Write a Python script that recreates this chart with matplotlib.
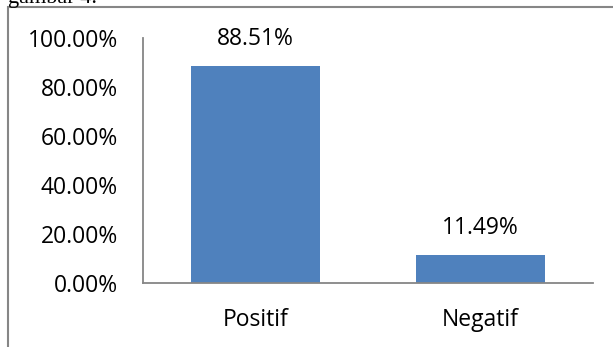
import matplotlib
matplotlib.use("Agg")
import matplotlib.pyplot as plt
from matplotlib.patches import Rectangle
from matplotlib.ticker import FuncFormatter

# data
categories = ["Positif", "Negatif"]
values = [0.8851, 0.1149]
y_ticks = [0.0, 0.2, 0.4, 0.6, 0.8, 1.0]

bar_color = "#4F81BD"
axis_color = "#868686"

plt.rcParams["font.family"] = ["Open Sans", "DejaVu Sans"]

W, H = 613, 347
fig = plt.figure(figsize=(W / 100, H / 100), dpi=100)

# axes placed in pixel coordinates of the reference
left, right, top, bottom = 143, 593, 38, 283
ax = fig.add_axes([left / W, 1 - bottom / H, (right - left) / W, (bottom - top) / H])

x = range(len(categories))
bars = ax.bar(x, values, width=0.57, color=bar_color, zorder=2)

for b, v in zip(bars, values):
    ax.annotate(f"{v * 100:.2f}%", (b.get_x() + b.get_width() / 2, v),
                xytext=(0, 19.5), textcoords="offset points",
                ha="center", va="center", fontsize=16.5, color="black")

ax.set_xlim(-0.5, len(categories) - 0.5)
ax.set_ylim(0, 1.0)
ax.set_yticks(y_ticks)
ax.yaxis.set_major_formatter(FuncFormatter(lambda v, _: f"{v * 100:.2f}%"))
ax.set_xticks(list(x))
ax.set_xticklabels(categories)

ax.tick_params(axis="both", length=0, labelsize=16.5, colors="black")
ax.tick_params(axis="y", pad=18)
ax.tick_params(axis="x", pad=18)

for s in ["top", "right"]:
    ax.spines[s].set_visible(False)
for s in ["left", "bottom"]:
    ax.spines[s].set_color(axis_color)
    ax.spines[s].set_linewidth(1.3)

# outer chart frame (right and bottom edges fall outside the crop)
fig.patches.append(Rectangle((8 / W, -0.1), 1.1, 1 - 7 / H + 0.1,
                             transform=fig.transFigure, fill=False,
                             edgecolor=axis_color, linewidth=1.5))

# caption from the page above, cut off at the top
fig.text(8 / W, 1 - 3 / H, "gambar 4.", family="Liberation Serif",
         fontsize=16, va="baseline", ha="left", color="black")

fig.savefig("out.png", dpi=100)
